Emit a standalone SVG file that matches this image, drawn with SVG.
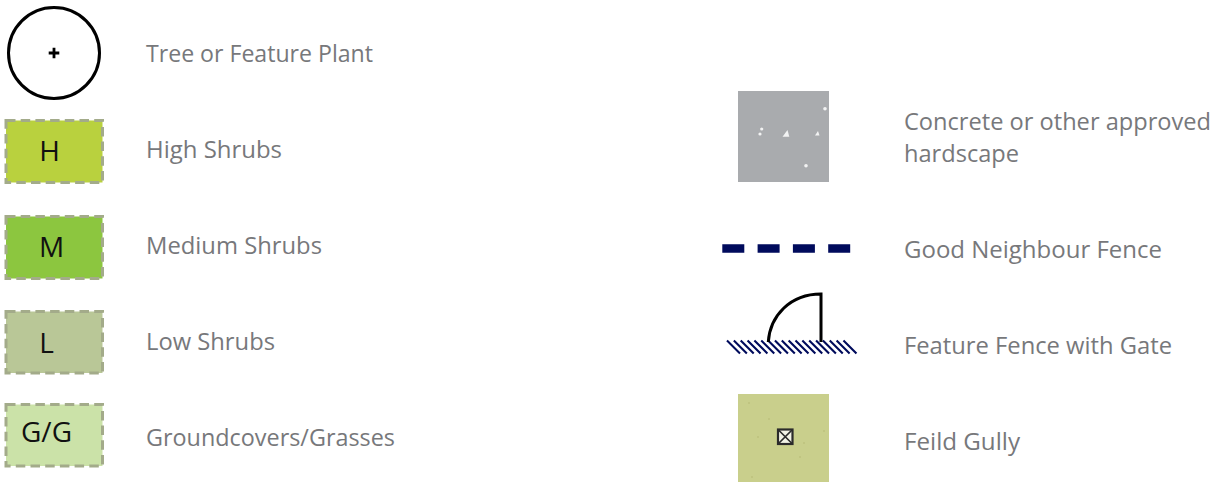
<svg xmlns="http://www.w3.org/2000/svg" width="1214" height="482" viewBox="0 0 1214 482">
<style>
.lbl{font-family:"Open Sans","Noto Sans",sans-serif;font-size:24px;fill:#77787b}
.code{font-family:"Open Sans","Noto Sans",sans-serif;font-size:28px;fill:#111;text-anchor:middle}
.sw{stroke:#a3ab8a;stroke-width:3;stroke-dasharray:9.500 5.200}
.spk{fill:#fff;opacity:.85}
.fleck{fill:#bcc27e}
</style>
<rect width="1214" height="482" fill="#fff"/>
<g id="tree"><circle cx="54" cy="53" r="45.500" fill="#fff" stroke="#000" stroke-width="3"/><path d="M48.700 53H59.300M54 47.700V58.300" stroke="#000" stroke-width="2.800"/><text class="lbl" x="146" y="62" textLength="227" lengthAdjust="spacingAndGlyphs">Tree or Feature Plant</text></g>
<g id="high"><rect class="sw" x="6" y="120.500" width="96.500" height="62" fill="#b9d13e"/><text class="code" x="49.500" y="161">H</text><text class="lbl" x="146" y="158" textLength="136" lengthAdjust="spacingAndGlyphs">High Shrubs</text></g>
<g id="medium"><rect class="sw" x="6" y="216.500" width="96.500" height="62" fill="#8cc63f"/><text class="code" x="51.500" y="257">M</text><text class="lbl" x="146" y="254" textLength="176" lengthAdjust="spacingAndGlyphs">Medium Shrubs</text></g>
<g id="low"><rect class="sw" x="6" y="311.500" width="96.500" height="61.500" fill="#b9c797"/><text class="code" x="46.500" y="353">L</text><text class="lbl" x="146" y="350" textLength="129" lengthAdjust="spacingAndGlyphs">Low Shrubs</text></g>
<g id="ground"><rect class="sw" x="6" y="404.500" width="96.500" height="61.500" fill="#cbe2a8"/><text class="code" x="46.500" y="442">G/G</text><text class="lbl" x="146" y="446" textLength="249" lengthAdjust="spacingAndGlyphs">Groundcovers/Grasses</text></g>
<g id="concrete"><rect x="738" y="91" width="91" height="91" fill="#a9abae"/>
<path class="spk" d="M782.500 136.800L787.500 130L789.300 136.800Z"/><circle class="spk" cx="825" cy="108.700" r="1.800"/><circle class="spk" cx="761.700" cy="129" r="1.600"/><circle class="spk" cx="760" cy="134" r="1.600"/><path class="spk" d="M815 135.500L818 131L819.500 135.500Z"/><circle class="spk" cx="806" cy="165.700" r="1.800"/>
<text class="lbl" x="904" y="130" textLength="307" lengthAdjust="spacingAndGlyphs">Concrete or other approved</text><text class="lbl" x="904" y="162" textLength="115" lengthAdjust="spacingAndGlyphs">hardscape</text></g>
<g id="good-fence"><path d="M722.300 248.500H851" stroke="#000b5c" stroke-width="8.400" stroke-dasharray="22 13.300" fill="none"/><text class="lbl" x="904" y="258" textLength="258" lengthAdjust="spacingAndGlyphs">Good Neighbour Fence</text></g>
<g id="feature-fence"><path fill="none" stroke="#000b5c" stroke-width="2.100" d="M727 340.500l13 13M733.850 340.500l13 13M740.700 340.500l13 13M747.550 340.500l13 13M754.400 340.500l13 13M761.250 340.500l13 13M768.100 340.500l13 13M774.950 340.500l13 13M781.800 340.500l13 13M788.650 340.500l13 13M795.500 340.500l13 13M802.350 340.500l13 13M809.200 340.500l13 13M816.050 340.500l13 13M822.900 340.500l13 13M829.750 340.500l13 13M836.600 340.500l13 13M843.450 340.500l13 13"/><path d="M768.300 342C770 316 790 294 821 294V342" fill="none" stroke="#000" stroke-width="3"/><text class="lbl" x="904" y="354" textLength="268" lengthAdjust="spacingAndGlyphs">Feature Fence with Gate</text></g>
<g id="gully"><rect x="738" y="394" width="91" height="88" fill="#c9cf8c"/>
<circle class="fleck" cx="749" cy="403" r="1"/><circle class="fleck" cx="769" cy="419" r="1"/><circle class="fleck" cx="758" cy="437" r="1"/><circle class="fleck" cx="804" cy="443" r="1"/><circle class="fleck" cx="800" cy="457" r="1"/><circle class="fleck" cx="752" cy="477" r="1"/><circle class="fleck" cx="824" cy="431" r="1"/>
<rect x="778" y="429.500" width="14.500" height="14.500" fill="#f2f3e6" stroke="#2b2b2b" stroke-width="2.200"/><path d="M778.500 430L792 443.500M792 430L778.500 443.500" stroke="#2b2b2b" stroke-width="1.700"/><text class="lbl" x="904" y="450" textLength="116" lengthAdjust="spacingAndGlyphs">Feild Gully</text></g>
</svg>
